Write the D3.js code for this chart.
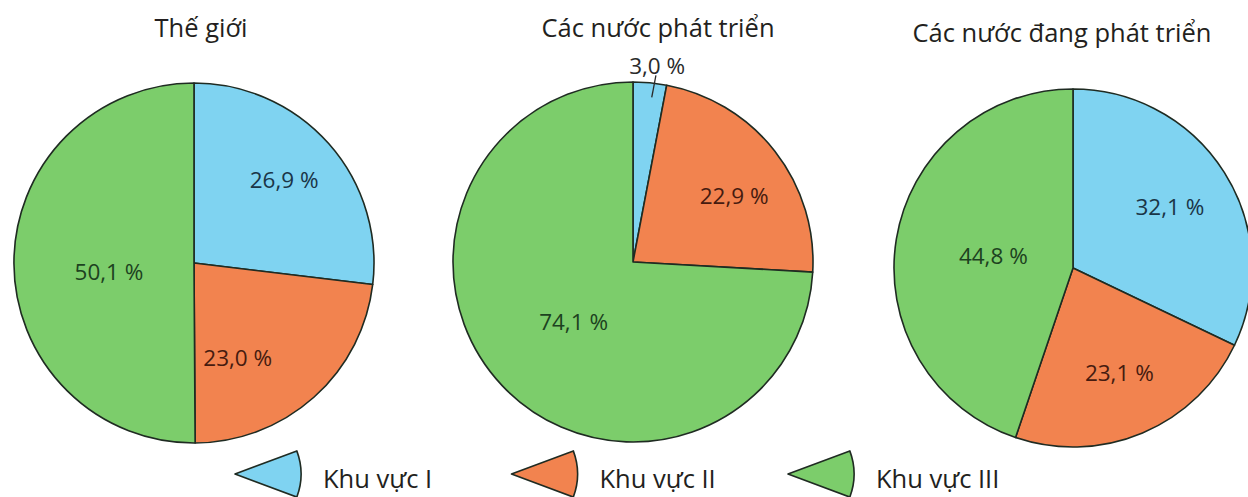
<!DOCTYPE html>
<html lang="vi">
<head>
<meta charset="utf-8">
<script src="https://cdn.jsdelivr.net/npm/d3@7"></script>
<style>
  html, body { margin: 0; padding: 0; background: #ffffff; }
  svg { display: block; }
  text { font-family: "Open Sans", "Noto Sans", sans-serif; }
</style>
</head>
<body>
<svg id="chart" width="1248" height="497"></svg>
<script>
// Cơ cấu lao động theo khu vực kinh tế (%)
const sectors = ["Khu vực I", "Khu vực II", "Khu vực III"];
const groups = ["Thế giới", "Các nước phát triển", "Các nước đang phát triển"];
const shareWorld = [26.9, 23.0, 50.1];
const shareDeveloped = [3.0, 22.9, 74.1];
const shareDeveloping = [32.1, 23.1, 44.8];

const seriesByGroup = [shareWorld, shareDeveloped, shareDeveloping];

const sectorFill = ["#7fd3f1", "#f2834f", "#7ccd6b"];
const sectorInk = ["#1a3547", "#461b0f", "#1d4220"];
const edge = "#1f2b22";

// Pie frames and title placement
const frames = [
  { cx: 194, cy: 263, r: 180, titleX: 201, titleY: 37 },
  { cx: 633, cy: 262, r: 180, titleX: 658, titleY: 37 },
  { cx: 1073, cy: 268, r: 179, titleX: 1062, titleY: 42 }
];

// Label placement per slice: [radius fraction, angular nudge in degrees]
const labelPlace = [
  [[0.68, -1], [0.58, 17], [0.475, -6]],
  [[1.10, 1.6], [0.67, 5], [0.47, -2]],
  [[0.64, 0], [0.64, -1], [0.45, -1]]
];

const svg = d3.select("#chart");
const pie = d3.pie().sort(null).value(d => d);
const fmt = v => d3.format(".1f")(v).replace(".", ",") + " %";
const rad = deg => deg * Math.PI / 180;

seriesByGroup.forEach((values, gi) => {
  const f = frames[gi];
  const arc = d3.arc().innerRadius(0).outerRadius(f.r);
  const g = svg.append("g").attr("transform", `translate(${f.cx},${f.cy})`);
  const slices = pie(values);

  g.selectAll("path.slice")
    .data(slices)
    .join("path")
    .attr("class", "slice")
    .attr("d", arc)
    .attr("fill", (d, i) => sectorFill[i])
    .attr("stroke", edge)
    .attr("stroke-width", 1.6)
    .attr("stroke-linejoin", "round");

  slices.forEach((s, i) => {
    const [rf, nudge] = labelPlace[gi][i];
    const a = (s.startAngle + s.endAngle) / 2 + rad(nudge);
    const [x, y] = d3.pointRadial(a, f.r * rf);
    const outside = rf > 1;
    if (outside) {
      const [x1, y1] = d3.pointRadial(a - rad(0.5), f.r * 0.92);
      const [x2, y2] = d3.pointRadial(a, f.r * 1.045);
      g.append("line")
        .attr("x1", x1).attr("y1", y1)
        .attr("x2", x2).attr("y2", y2)
        .attr("stroke", "#2a2a2a")
        .attr("stroke-width", 1.3);
    }
    g.append("text")
      .attr("x", x)
      .attr("y", y)
      .attr("dy", "0.36em")
      .attr("text-anchor", "middle")
      .attr("font-size", 22.5)
      .attr("fill", outside ? "#2a2a2a" : sectorInk[i])
      .text(fmt(s.data));
  });

  svg.append("text")
    .attr("x", f.titleX)
    .attr("y", f.titleY)
    .attr("text-anchor", "middle")
    .attr("font-size", 25.5)
    .attr("fill", "#231f20")
    .text(groups[gi]);
});

// Legend: wedge symbols pointing left, label to the right
const legendX = d3.scalePoint().domain(sectors).range([235, 788]);
const wedge = d3.arc()
  .innerRadius(0)
  .outerRadius(66)
  .startAngle(Math.PI / 2 - rad(20.5))
  .endAngle(Math.PI / 2 + rad(20.5));

const legend = svg.append("g");
sectors.forEach((name, i) => {
  const x0 = legendX(name);
  legend.append("path")
    .attr("transform", `translate(${x0},474)`)
    .attr("d", wedge())
    .attr("fill", sectorFill[i])
    .attr("stroke", edge)
    .attr("stroke-width", 1.6)
    .attr("stroke-linejoin", "round");
  legend.append("text")
    .attr("x", x0 + 88)
    .attr("y", 488)
    .attr("font-size", 25.5)
    .attr("fill", "#231f20")
    .text(name);
});
</script>
</body>
</html>
